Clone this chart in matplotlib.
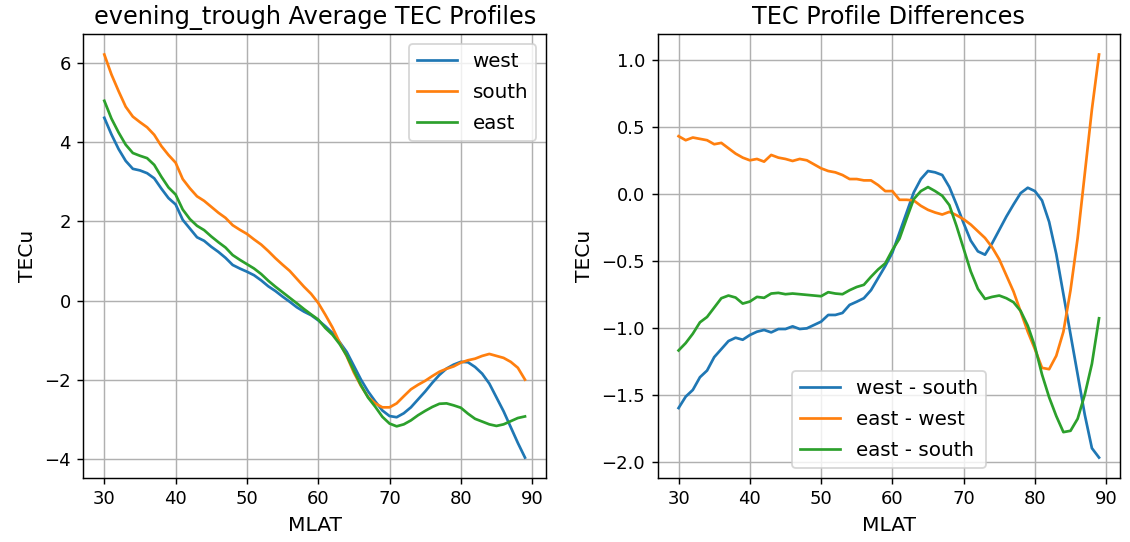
import numpy as np
import matplotlib.pyplot as plt

mlat = np.arange(30, 90)

# mean TEC along the west profile (TECu)
west = np.array([
    4.62, 4.20, 3.83, 3.53, 3.33, 3.29, 3.22, 3.09, 2.83, 2.59,
    2.43, 2.04, 1.82, 1.60, 1.51, 1.36, 1.23, 1.08, 0.90, 0.81,
    0.73, 0.64, 0.51, 0.36, 0.24, 0.10, -0.03, -0.17, -0.28, -0.37,
    -0.50, -0.65, -0.82, -1.05, -1.30, -1.65, -2.00, -2.30, -2.55, -2.78,
    -2.92, -2.95, -2.85, -2.70, -2.50, -2.30, -2.08, -1.88, -1.72, -1.62,
    -1.55, -1.56, -1.68, -1.85, -2.10, -2.45, -2.80, -3.20, -3.60, -3.97,
])

# west minus south
west_south = np.array([
    -1.60, -1.515, -1.465, -1.37, -1.32, -1.22, -1.16, -1.10, -1.075, -1.09,
    -1.055, -1.03, -1.017, -1.035, -1.01, -1.01, -0.99, -1.01, -1.005, -0.98,
    -0.955, -0.905, -0.905, -0.89, -0.83, -0.806, -0.78, -0.72, -0.63, -0.54,
    -0.44, -0.29, -0.14, 0.01, 0.11, 0.17, 0.16, 0.14, 0.05, -0.08,
    -0.22, -0.35, -0.43, -0.455, -0.37, -0.27, -0.17, -0.08, 0.005, 0.045,
    0.02, -0.05, -0.21, -0.45, -0.75, -1.05, -1.35, -1.65, -1.90, -1.97,
])

# east minus west
east_west = np.array([
    0.43, 0.40, 0.42, 0.41, 0.40, 0.37, 0.38, 0.34, 0.30, 0.27,
    0.25, 0.26, 0.24, 0.29, 0.27, 0.26, 0.245, 0.26, 0.25, 0.22,
    0.19, 0.17, 0.16, 0.14, 0.11, 0.11, 0.10, 0.10, 0.065, 0.02,
    0.02, -0.045, -0.045, -0.05, -0.09, -0.12, -0.14, -0.155, -0.135, -0.16,
    -0.19, -0.23, -0.28, -0.33, -0.40, -0.49, -0.61, -0.73, -0.88, -1.03,
    -1.16, -1.30, -1.31, -1.21, -1.03, -0.72, -0.33, 0.15, 0.63, 1.04,
])

south = west - west_south
east = west + east_west

profiles = {'west': west, 'south': south, 'east': east}
diffs = {
    'west - south': west - south,
    'east - west': east - west,
    'east - south': east - south,
}

plt.rcParams['axes.titlesize'] = 13.3
plt.rcParams['axes.labelsize'] = 11.2
plt.rcParams['legend.fontsize'] = 11
plt.rcParams['legend.labelspacing'] = 0.6

fig = plt.figure(figsize=(1130 / 130, 542 / 130), dpi=130)
ax1 = fig.add_axes([0.0737, 0.1186, 0.4095, 0.818])
ax2 = fig.add_axes([0.5819, 0.1186, 0.4093, 0.818])

for name, vals in profiles.items():
    ax1.plot(mlat, vals, label=name)
ax1.set_title('evening_trough Average TEC Profiles')
ax1.set_xlabel('MLAT')
ax1.set_ylabel('TECu')
ax1.grid(True)
ax1.legend(loc='upper right')

for name, vals in diffs.items():
    ax2.plot(mlat, vals, label=name)
ax2.set_title('TEC Profile Differences')
ax2.set_xlabel('MLAT')
ax2.set_ylabel('TECu')
ax2.grid(True)
ax2.legend(loc='lower center')

fig.savefig('out.png', dpi=130)
